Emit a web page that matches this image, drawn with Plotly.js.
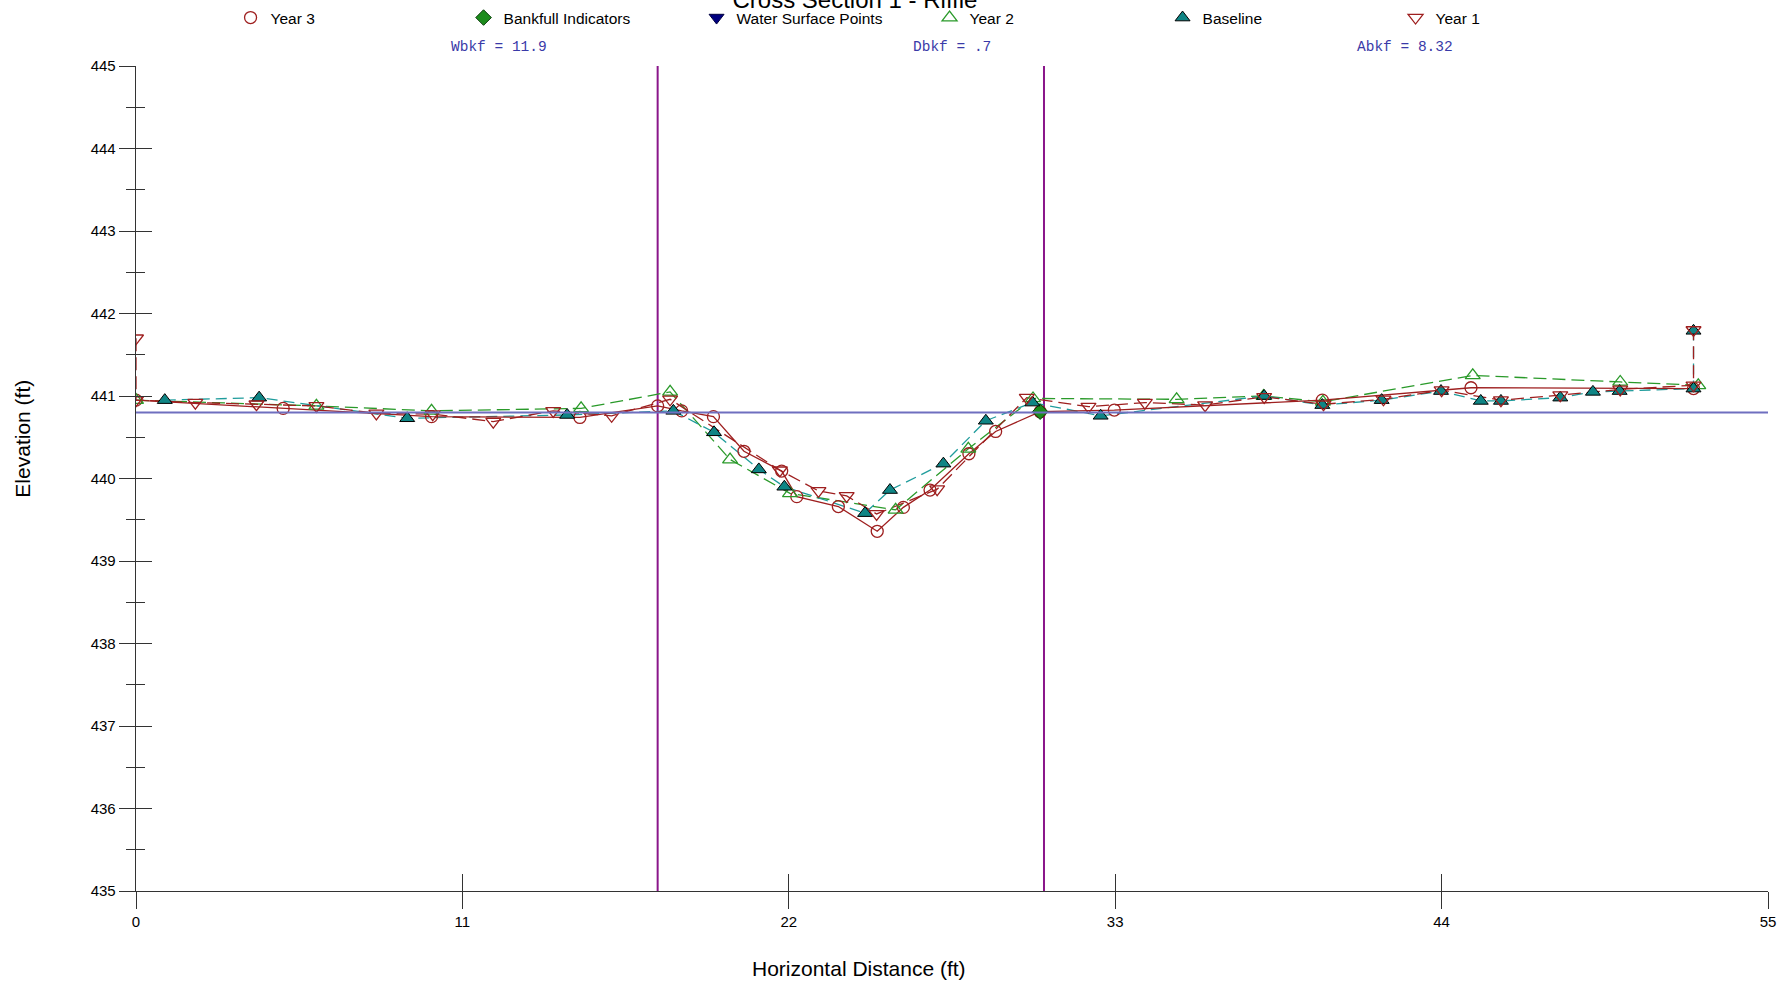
<!DOCTYPE html>
<html>
<head>
<meta charset="utf-8">
<script src="https://cdn.plot.ly/plotly-3.0.1.min.js"></script>
<style>html,body{margin:0;padding:0;background:#fff;}#chart{width:1779px;height:984px;}</style>
</head>
<body>
<div id="chart"></div>
<script>
// ---- Data ----
const year3X = [0, 4.96, 9.96, 14.96, 17.58, 18.39, 19.46, 20.49, 21.76, 22.27, 23.67, 24.98, 25.86, 26.76, 28.07, 28.97, 30.47, 32.97, 39.98, 44.99, 52.49];
const year3Y = [440.95, 440.85, 440.75, 440.74, 440.88, 440.82, 440.75, 440.33, 440.09, 439.78, 439.66, 439.36, 439.65, 439.86, 440.30, 440.57, 440.81, 440.83, 440.95, 441.10, 441.09];

const year2X = [0, 6.08, 9.96, 15.0, 18.0, 20.02, 22.04, 25.6, 28.05, 30.23, 35.07, 38.0, 40.0, 45.05, 50.02, 52.65];
const year2Y = [440.95, 440.88, 440.82, 440.85, 441.05, 440.23, 439.82, 439.62, 440.36, 440.97, 440.96, 441.0, 440.93, 441.25, 441.17, 441.13];

const baselineX = [0.97, 4.15, 9.14, 14.53, 18.11, 19.48, 20.99, 21.85, 24.57, 25.41, 27.21, 28.64, 30.21, 32.51, 38.02, 39.98, 41.98, 43.98, 45.32, 46.0, 48.0, 49.1, 50.0, 52.49, 52.49];
const baselineY = [440.95, 440.98, 440.73, 440.77, 440.82, 440.56, 440.11, 439.90, 439.58, 439.86, 440.18, 440.70, 440.92, 440.76, 441.0, 440.89, 440.95, 441.06, 440.94, 440.94, 440.98, 441.05, 441.06, 441.09, 441.79];

const year1X = [0, 0, 2.0, 4.06, 6.08, 8.1, 10.0, 12.04, 14.06, 16.03, 18.0, 21.7, 23.0, 23.95, 24.96, 27.0, 30.02, 32.1, 34.0, 36.03, 38.02, 40.02, 42.04, 44.0, 46.0, 48.0, 50.02, 52.49, 52.49];
const year1Y = [441.7, 440.95, 440.92, 440.9, 440.88, 440.79, 440.78, 440.69, 440.82, 440.76, 440.96, 440.1, 439.85, 439.79, 439.57, 439.87, 440.98, 440.87, 440.92, 440.89, 440.99, 440.9, 440.96, 441.07, 440.95, 441.01, 441.08, 441.13, 441.8];

const bankfullX = [30.47];
const bankfullY = [440.81];

// no water surface points are plotted in the reference (legend entry only)
const waterSurfaceX = [null];
const waterSurfaceY = [null];

const bkfLimitsX = [17.58, 30.6];   // vertical bankfull limits (ft)
const bkfElevation = 440.8;         // bankfull elevation (ft)
const xExtent = [0, 55];
const yExtent = [435, 445];

const xTickVals = [0, 11, 22, 33, 44, 55];
const yTickVals = [435, 436, 437, 438, 439, 440, 441, 442, 443, 444, 445];

const statLabels = ['Wbkf = 11.9', 'Dbkf = .7', 'Abkf = 8.32'];
const statPositions = [2/9, 0.5, 7/9];

// ---- Styles ----
const RED = '#9e1f1f';
const GREEN = '#2a9a2a';
const TEAL = '#0f8585';
const PURPLE = '#8a168a';
const BKLINE = '#6f6fbf';
const SANS = 'Liberation Sans, Arial, sans-serif';

const traces = [];

// bankfull horizontal line (on overlay axes to draw crossing ticks)
traces.push({x: xExtent, y: [bkfElevation, bkfElevation], xaxis: 'x2', yaxis: 'y2', mode: 'lines',
  line: {color: BKLINE, width: 2}, showlegend: false, hoverinfo: 'skip'});
// vertical bankfull limits
bkfLimitsX.forEach(v => traces.push({x: [v, v], y: yExtent, mode: 'lines',
  line: {color: PURPLE, width: 2}, showlegend: false, hoverinfo: 'skip'}));

// series lines
traces.push({x: year2X, y: year2Y, mode: 'lines', line: {color: GREEN, width: 1.3, dash: '13px,6px'}, showlegend: false});
traces.push({x: baselineX, y: baselineY, mode: 'lines', line: {color: '#1f9c9c', width: 1.3, dash: '11px,6px'}, showlegend: false});
traces.push({x: year1X, y: year1Y, mode: 'lines', line: {color: RED, width: 1.3, dash: '13px,6px'}, showlegend: false});
traces.push({x: year3X, y: year3Y, mode: 'lines', line: {color: RED, width: 1.3}, showlegend: false});

// markers + legend entries
traces.push({name: 'Year 3', x: year3X, y: year3Y, mode: 'markers', legendrank: 1,
  marker: {symbol: 'circle-open', size: 12, color: RED, line: {width: 1.3}}});
traces.push({name: 'Bankfull Indicators', x: bankfullX, y: bankfullY, mode: 'markers', legendrank: 2,
  marker: {symbol: 'diamond', size: 12, color: '#1c8c1c', line: {color: '#0b3d0b', width: 1}}});
traces.push({name: 'Water Surface Points', x: waterSurfaceX, y: waterSurfaceY, mode: 'markers', legendrank: 3,
  marker: {symbol: 'triangle-down', size: 13, color: '#000080', line: {color: '#000040', width: 1}}});
traces.push({name: 'Year 2', x: year2X, y: year2Y, mode: 'markers', legendrank: 4,
  marker: {symbol: 'triangle-up-open', size: 13, color: GREEN, line: {width: 1.3}}});
traces.push({name: 'Baseline', x: baselineX, y: baselineY, mode: 'markers', legendrank: 5,
  marker: {symbol: 'triangle-up', size: 13, color: TEAL, line: {color: '#000', width: 1}}});
traces.push({name: 'Year 1', x: year1X, y: year1Y, mode: 'markers', legendrank: 6,
  marker: {symbol: 'triangle-down-open', size: 13, color: RED, line: {width: 1.3}}});

const annotations = statLabels.map((t, i) => ({
  text: t, xref: 'paper', yref: 'paper', x: statPositions[i], y: 1.0236,
  xanchor: 'center', yanchor: 'middle', showarrow: false,
  font: {family: 'Liberation Mono, Courier New, monospace', size: 14.5, color: '#3a3aa8'}
}));
annotations.push({text: 'Horizontal Distance (ft)', xref: 'paper', yref: 'paper', x: 0.443, y: -0.0945,
  xanchor: 'center', yanchor: 'middle', showarrow: false, font: {family: SANS, size: 21, color: '#000'}});
annotations.push({text: 'Elevation (ft)', xref: 'paper', yref: 'paper', x: -0.0694, y: 0.548, textangle: -90,
  xanchor: 'center', yanchor: 'middle', showarrow: false, font: {family: SANS, size: 21, color: '#000'}});

const axisCommon = {showgrid: false, zeroline: false, tickcolor: '#333', tickwidth: 1};

const layout = {
  width: 1779, height: 984,
  margin: {l: 136, r: 11, t: 66, b: 93},
  paper_bgcolor: '#fff', plot_bgcolor: '#fff',
  font: {family: SANS, size: 15, color: '#000'},
  title: {text: 'Cross Section 1 - Riffle', xref: 'container', yref: 'container', x: 0.4806, y: 1,
    xanchor: 'center', yanchor: 'middle', font: {family: SANS, size: 24, color: '#000'}},
  showlegend: true,
  legend: {orientation: 'h', xref: 'container', yref: 'container', x: 0.1296, y: 0.999,
    xanchor: 'left', yanchor: 'top', entrywidthmode: 'pixels', entrywidth: 188,
    font: {family: SANS, size: 15.5, color: '#000'}, bgcolor: 'rgba(0,0,0,0)', traceorder: 'normal'},
  xaxis: Object.assign({}, axisCommon, {range: xExtent, tickvals: xTickVals, ticks: 'outside', ticklen: 17,
    showline: true, linecolor: '#333', linewidth: 1.3, tickfont: {size: 15}, title: {text: ''}}),
  yaxis: Object.assign({}, axisCommon, {range: yExtent, tickvals: yTickVals, ticks: 'outside', ticklen: 16,
    minor: {dtick: 0.5, ticks: 'outside', ticklen: 9, tickcolor: '#333', showgrid: false},
    showline: true, linecolor: '#333', linewidth: 1.3, tickfont: {size: 15}, title: {text: ''}}),
  xaxis2: Object.assign({}, axisCommon, {range: xExtent, overlaying: 'x', anchor: 'y', side: 'bottom',
    tickvals: xTickVals, ticks: 'inside', ticklen: 17, showticklabels: false, showline: false}),
  yaxis2: Object.assign({}, axisCommon, {range: yExtent, overlaying: 'y', anchor: 'x', side: 'left',
    tickvals: yTickVals, ticks: 'inside', ticklen: 16, showticklabels: false, showline: false,
    minor: {dtick: 0.5, ticks: 'inside', ticklen: 9, tickcolor: '#333', showgrid: false}}),
  annotations: annotations
};

Plotly.newPlot('chart', traces, layout, {displayModeBar: false, staticPlot: true});
</script>
</body>
</html>
